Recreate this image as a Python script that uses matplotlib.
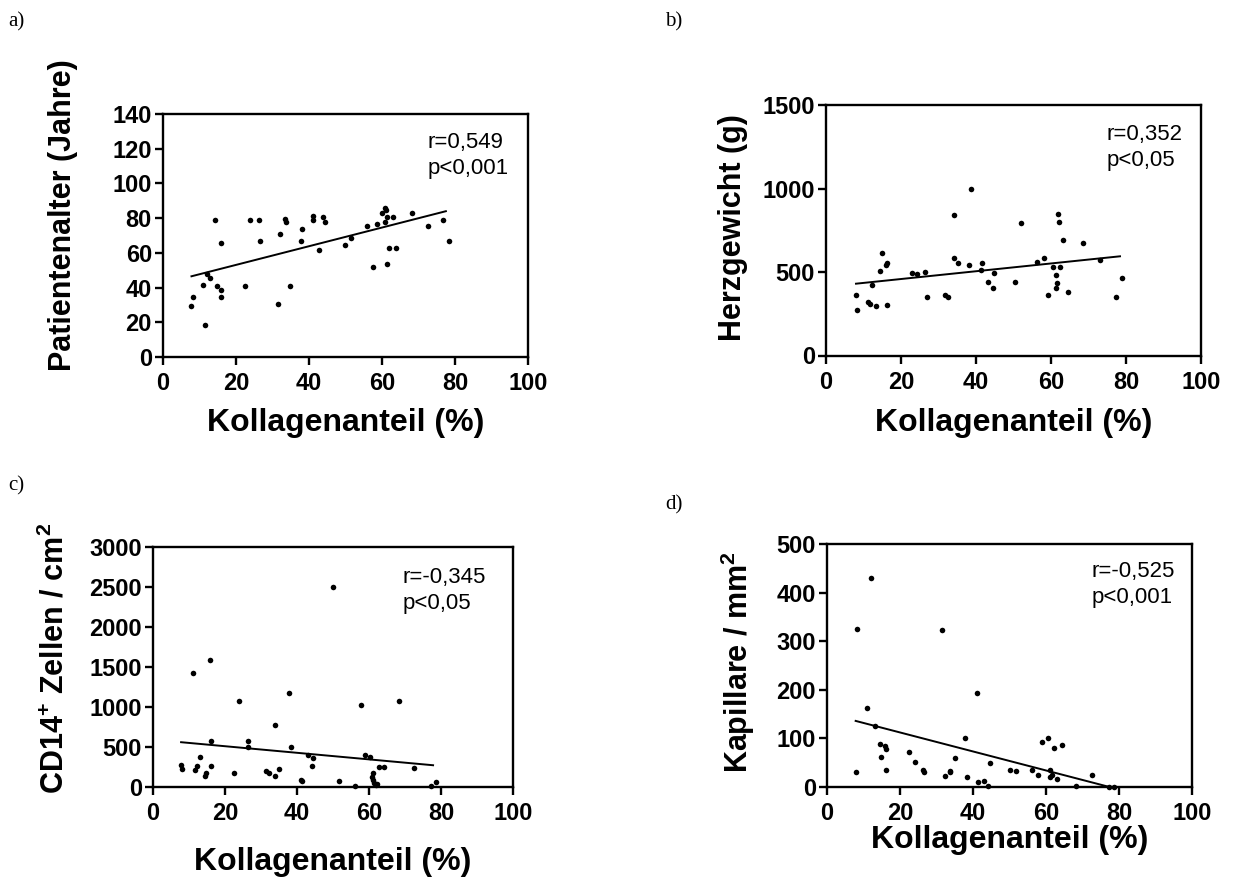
import numpy as np
import matplotlib
matplotlib.use("Agg")
import matplotlib.pyplot as plt

plt.rcParams['font.family'] = ['Liberation Sans', 'DejaVu Sans']
plt.rcParams['mathtext.fontset'] = 'custom'
plt.rcParams['mathtext.rm'] = 'Liberation Sans:bold'
plt.rcParams['mathtext.it'] = 'Liberation Sans:bold'
plt.rcParams['mathtext.bf'] = 'Liberation Sans:bold'

# a) Patientenalter
a_x = [7.8, 8.1, 11.6, 10.9, 12.0, 13.0, 14.3, 14.7, 15.9, 16.0, 15.8, 22.5, 23.8, 26.2, 26.5,
       31.4, 32.1, 33.5, 33.6, 34.8, 37.7, 38.2, 41.1, 41.0, 42.8, 43.9, 44.3, 49.8, 51.5, 55.8,
       57.5, 58.7, 60.1, 60.7, 60.8, 61.0, 61.3, 61.4, 62.0, 62.9, 63.9, 68.1, 72.5, 76.8, 78.3]
a_y = [29.6, 34.6, 18.7, 41.7, 47.7, 45.6, 78.7, 40.8, 38.7, 34.6, 65.6, 40.8, 78.7, 78.7, 66.7,
       30.6, 70.6, 79.6, 77.7, 40.8, 66.7, 73.7, 81.5, 78.7, 61.7, 80.8, 77.7, 64.6, 68.7, 75.6,
       51.7, 76.5, 82.7, 85.6, 77.7, 84.6, 80.8, 53.7, 62.7, 80.8, 62.7, 82.7, 75.6, 78.7, 66.7]
a_fit_x = [7.8, 77.5]
a_fit_y = [46.5, 84.0]

# b) Herzgewicht
b_x = [8.0, 8.3, 11.1, 11.8, 12.3, 13.2, 14.4, 14.9, 16.1, 16.3, 16.3, 23.0, 24.3, 26.5, 26.8,
       31.7, 32.4, 34.0, 34.0, 35.2, 38.1, 38.6, 41.6, 41.3, 43.3, 44.4, 44.7, 50.3, 51.9, 56.3,
       58.1, 59.2, 60.6, 61.4, 61.5, 61.3, 61.8, 62.0, 62.5, 63.3, 64.5, 68.6, 73.0, 77.4, 78.9]
b_y = [362, 274, 322, 306, 422, 294, 504, 612, 540, 554, 302, 492, 490, 502, 352,
       362, 352, 840, 582, 552, 540, 1000, 552, 512, 442, 402, 492, 442, 792, 562,
       586, 362, 532, 480, 432, 402, 846, 800, 532, 692, 382, 672, 572, 352, 462]
b_fit_x = [8.0, 78.4]
b_fit_y = [430, 594]

# c) CD14+ Zellen
c_x = [7.8, 8.1, 11.1, 11.7, 12.1, 13.1, 14.4, 14.8, 15.9, 16.2, 16.2, 22.6, 24.0, 26.4, 26.3,
       31.4, 32.3, 33.8, 33.8, 35.0, 37.9, 38.2, 41.1, 41.4, 43.0, 44.5, 44.1, 50.0, 51.7, 56.0,
       57.7, 58.8, 60.3, 60.8, 61.1, 61.1, 61.5, 61.9, 62.3, 62.8, 64.2, 68.2, 72.6, 77.1, 78.5]
c_y = [280, 226, 1429, 213, 267, 372, 142, 180, 1591, 576, 267, 180, 1078, 576, 505,
       205, 180, 142, 781, 230, 1178, 505, 84, 71, 405, 359, 263, 2498, 75, 13,
       1028, 397, 372, 130, 180, 84, 46, 21, 33, 246, 251, 1074, 234, 8, 67]
c_fit_x = [7.8, 77.8]
c_fit_y = [560, 272]

# d) Kapillare
d_x = [7.9, 8.1, 11.0, 12.1, 13.1, 14.4, 14.8, 15.9, 16.1, 16.1, 22.6, 24.0, 26.3, 26.6,
       31.5, 32.3, 33.6, 33.7, 35.0, 37.9, 38.3, 41.2, 41.5, 43.0, 44.1, 44.6, 50.1, 51.9,
       56.1, 57.9, 59.0, 60.5, 61.0, 61.2, 61.7, 62.3, 63.1, 64.3, 68.3, 72.7, 77.3, 78.6]
d_y = [30, 326, 163, 430, 126, 89, 62, 85, 78, 36, 72, 51, 34, 31,
       323, 22, 30, 33, 59, 100, 21, 194, 11, 12, 3, 49, 36, 32,
       34, 25, 93, 100, 36, 21, 25, 80, 16, 86, 3, 24, 1, 1]
d_fit_x = [7.85, 76.7]
d_fit_y = [136, 1.4]

x_ticks = [0, 20, 40, 60, 80, 100]

W, H = 1234, 881
fig = plt.figure(figsize=(W / 100, H / 100), dpi=100)


def px_axes(x0, y0, x1, y1):
    return fig.add_axes([x0 / W, 1 - y1 / H, (x1 - x0) / W, (y1 - y0) / H])


def fig_text(x, y, s, **kw):
    fig.text(x / W, 1 - y / H, s, **kw)


panels = [
    # axes box (px), x, y, fit x, fit y, y max, y ticks, stats, stats pos, ylabel, ylabel pos, xlabel y, letter, letter pos
    ((163, 114, 528, 357), a_x, a_y, a_fit_x, a_fit_y, 140, range(0, 141, 20),
     "r=0,549\np<0,001", (0.726, 0.925), "Patientenalter (Jahre)", (63, 215), 423, "a)", (8, 22)),
    ((826, 105, 1201, 355.5), b_x, b_y, b_fit_x, b_fit_y, 1500, range(0, 1501, 500),
     "r=0,352\np<0,05", (0.747, 0.925), "Herzgewicht (g)", (733, 228), 423, "b)", (665, 22)),
    ((153, 547, 513, 787), c_x, c_y, c_fit_x, c_fit_y, 3000, range(0, 3001, 500),
     "r=-0,345\np<0,05", (0.694, 0.915), "CD14$^{+}$ Zellen / cm$^{2}$", (55, 658), 862, "c)", (8, 486)),
    ((827, 544, 1192, 787), d_x, d_y, d_fit_x, d_fit_y, 500, range(0, 501, 100),
     "r=-0,525\np<0,001", (0.725, 0.93), "Kapillare / mm$^{2}$", (738, 662), 840, "d)", (665, 505)),
]

for box, xs, ys, fx, fy, ymax, yt, stats, spos, ylab, ylpos, xly, letter, lpos in panels:
    ax = px_axes(*box)
    ax.plot(xs, ys, 'o', color='black', ms=4, mew=0, clip_on=False, zorder=3)
    ax.plot(fx, fy, '-', color='black', lw=1.4, zorder=2)
    ax.set_xlim(0, 100)
    ax.set_ylim(0, ymax)
    ax.set_xticks(x_ticks)
    ax.set_yticks(list(yt))
    for sp in ax.spines.values():
        sp.set_linewidth(1.7)
    ax.tick_params(direction='out', length=6, width=1.7, labelsize=17)
    ax.tick_params(axis='x', pad=5)
    ax.tick_params(axis='y', pad=2)
    for lbl in ax.get_xticklabels() + ax.get_yticklabels():
        lbl.set_fontweight('bold')
    ax.text(spos[0], spos[1], stats, transform=ax.transAxes, ha='left', va='top',
            fontsize=16, linespacing=1.3)
    cx = (box[0] + box[2]) / 2
    fig_text(cx, xly, "Kollagenanteil (%)", ha='center', va='center',
             fontsize=23, fontweight='bold')
    fig_text(ylpos[0], ylpos[1], ylab, ha='center', va='center', rotation=90,
             fontsize=22, fontweight='bold')
    fig_text(lpos[0], lpos[1], letter, ha='left', va='center', fontsize=15,
             family=['Liberation Serif', 'DejaVu Serif'])

fig.savefig("out.png", dpi=100)
